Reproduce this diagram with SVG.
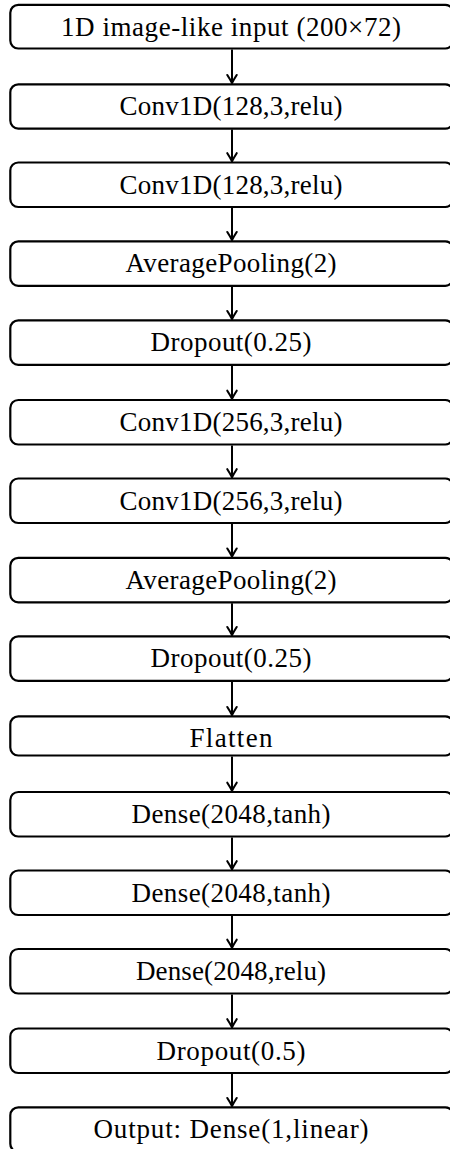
<svg xmlns="http://www.w3.org/2000/svg" width="450" height="1149" viewBox="0 0 450 1149">
<defs>
<style>
.box{fill:#fff;stroke:#000;stroke-width:2.2}
.lbl{font-family:"Liberation Serif","Times New Roman",serif;font-size:27px;fill:#000;text-anchor:middle}
.edge{stroke:#000;stroke-width:2;fill:none;marker-end:url(#arr)}
</style>
<marker id="arr" markerUnits="userSpaceOnUse" orient="auto" refX="0" refY="0" markerWidth="12" markerHeight="12" overflow="visible">
<path d="M -8,-4.7 Q -3,-1.5 0,0 Q -3,1.5 -8,4.7" fill="none" stroke="#000" stroke-width="2.1" stroke-linecap="round" stroke-linejoin="round"/>
</marker>
</defs>
<rect width="450" height="1149" fill="#fff"/>
<g id="connectors">
<line class="edge" x1="232" y1="49.5" x2="232" y2="83"/>
<line class="edge" x1="232" y1="129.6" x2="232" y2="161.2"/>
<line class="edge" x1="232" y1="208" x2="232" y2="240"/>
<line class="edge" x1="232" y1="286.8" x2="232" y2="319"/>
<line class="edge" x1="232" y1="365.8" x2="232" y2="398.7"/>
<line class="edge" x1="232" y1="445.5" x2="232" y2="477.2"/>
<line class="edge" x1="232" y1="524" x2="232" y2="556.5"/>
<line class="edge" x1="232" y1="603.3" x2="232" y2="635"/>
<line class="edge" x1="232" y1="681.8" x2="232" y2="715"/>
<line class="edge" x1="232" y1="756.5" x2="232" y2="790.7"/>
<line class="edge" x1="232" y1="837.5" x2="232" y2="869.2"/>
<line class="edge" x1="232" y1="916" x2="232" y2="947.7"/>
<line class="edge" x1="232" y1="994.5" x2="232" y2="1027.2"/>
<line class="edge" x1="232" y1="1074" x2="232" y2="1106"/>
</g>
<g id="n1"><rect class="box" x="10.3" y="4.8" width="443" height="43.7" rx="8"/><text class="lbl" x="231" y="35.6" textLength="340" lengthAdjust="spacing">1D image-like input (200×72)</text></g>
<g id="n2"><rect class="box" x="10.3" y="84.3" width="443" height="44.3" rx="8"/><text class="lbl" x="231" y="115.4" textLength="223" lengthAdjust="spacing">Conv1D(128,3,relu)</text></g>
<g id="n3"><rect class="box" x="10.3" y="162.5" width="443" height="44.5" rx="8"/><text class="lbl" x="231" y="193.6" textLength="223" lengthAdjust="spacing">Conv1D(128,3,relu)</text></g>
<g id="n4"><rect class="box" x="10.3" y="241.3" width="443" height="44.5" rx="8"/><text class="lbl" x="231" y="272.4" textLength="211" lengthAdjust="spacing">AveragePooling(2)</text></g>
<g id="n5"><rect class="box" x="10.3" y="320.3" width="443" height="44.5" rx="8"/><text class="lbl" x="231" y="351.4" textLength="161" lengthAdjust="spacing">Dropout(0.25)</text></g>
<g id="n6"><rect class="box" x="10.3" y="400" width="443" height="44.5" rx="8"/><text class="lbl" x="231" y="431.1" textLength="223" lengthAdjust="spacing">Conv1D(256,3,relu)</text></g>
<g id="n7"><rect class="box" x="10.3" y="478.5" width="443" height="44.5" rx="8"/><text class="lbl" x="231" y="509.6" textLength="223" lengthAdjust="spacing">Conv1D(256,3,relu)</text></g>
<g id="n8"><rect class="box" x="10.3" y="557.8" width="443" height="44.5" rx="8"/><text class="lbl" x="231" y="588.9" textLength="211" lengthAdjust="spacing">AveragePooling(2)</text></g>
<g id="n9"><rect class="box" x="10.3" y="636.3" width="443" height="44.5" rx="8"/><text class="lbl" x="231" y="667.4" textLength="161" lengthAdjust="spacing">Dropout(0.25)</text></g>
<g id="n10"><rect class="box" x="10.3" y="716.3" width="443" height="39.2" rx="8"/><text class="lbl" x="231" y="746.8" textLength="83" lengthAdjust="spacing">Flatten</text></g>
<g id="n11"><rect class="box" x="10.3" y="792" width="443" height="44.5" rx="8"/><text class="lbl" x="231" y="823.1" textLength="199" lengthAdjust="spacing">Dense(2048,tanh)</text></g>
<g id="n12"><rect class="box" x="10.3" y="870.5" width="443" height="44.5" rx="8"/><text class="lbl" x="231" y="901.6" textLength="199" lengthAdjust="spacing">Dense(2048,tanh)</text></g>
<g id="n13"><rect class="box" x="10.3" y="949" width="443" height="44.5" rx="8"/><text class="lbl" x="231" y="980.1" textLength="190" lengthAdjust="spacing">Dense(2048,relu)</text></g>
<g id="n14"><rect class="box" x="10.3" y="1028.5" width="443" height="44.5" rx="8"/><text class="lbl" x="231" y="1059.6" textLength="149" lengthAdjust="spacing">Dropout(0.5)</text></g>
<g id="n15"><rect class="box" x="10.3" y="1107.3" width="443" height="44.5" rx="8"/><text class="lbl" x="231" y="1138.4" textLength="275" lengthAdjust="spacing">Output: Dense(1,linear)</text></g>
</svg>
